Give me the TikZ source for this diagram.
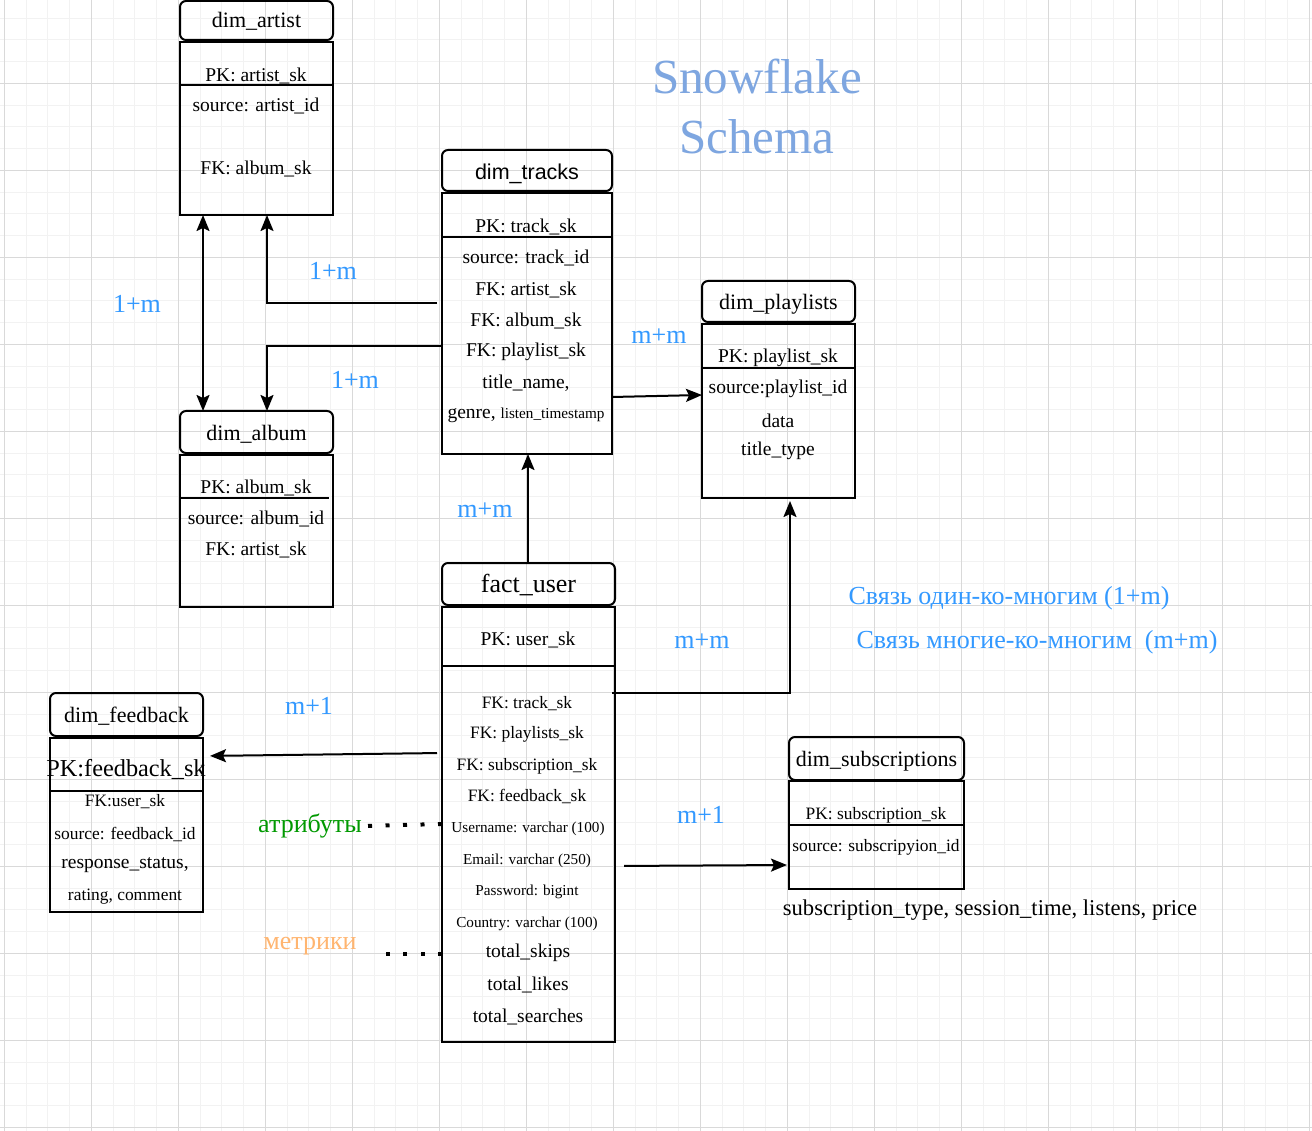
\documentclass[tikz,border=0pt]{standalone}
\usepackage{fontspec}
\setmainfont{Liberation Serif}
\newfontfamily\arialfont{Liberation Sans}
\usetikzlibrary{arrows.meta}
\definecolor{relblue}{HTML}{3399FF}
\definecolor{titleblue}{HTML}{7EA6E0}
\definecolor{attrgreen}{HTML}{009900}
\definecolor{metrorange}{HTML}{FFB570}
\definecolor{gridmajor}{HTML}{D9D9D9}
\definecolor{gridminor}{HTML}{F2F2F2}
\tikzset{
  tblhead/.style={draw, line width=2pt, rounded corners=6pt, anchor=north west, inner sep=0pt, outer sep=0pt, text height=18pt, text depth=1.2pt, font=\fontsize{22}{26}\selectfont},
  tblbody/.style={draw, line width=2pt, anchor=north west, inner sep=0pt, outer sep=0pt},
  sepline/.style={line width=2pt},
  fldL/.style={inner sep=0pt, yshift=-2pt, font=\fontsize{19.5}{23}\selectfont},
  fldM/.style={inner sep=0pt, yshift=-2pt, font=\fontsize{17.4}{21}\selectfont},
  fldS/.style={inner sep=0pt, yshift=-2pt, font=\fontsize{15.2}{18}\selectfont},
  rel/.style={inner sep=0pt, yshift=-2pt, text=relblue, font=\fontsize{26}{30}\selectfont},
  conn/.style={line width=2pt},
  dotlink/.style={line width=4pt, dash pattern=on 4pt off 13.5pt},
}
\begin{document}
\begin{tikzpicture}[x=1pt, y=-1pt, >={Stealth[length=16pt,width=13pt,inset=3pt]}]
\useasboundingbox (0,0) rectangle (1312,1131);
\fill[white] (0,0) rectangle (1312,1131);
% grid
\foreach \i in {0,...,60} {
  \draw[gridminor, line width=1pt] ({4.3+21.75*\i},0) -- ({4.3+21.75*\i},1131);
}
\foreach \i in {0,...,52} {
  \draw[gridminor, line width=1pt] (0,{-3.7+21.75*\i}) -- (1312,{-3.7+21.75*\i});
}
\foreach \i in {0,...,15} {
  \draw[gridmajor, line width=1pt] ({4.3+87*\i},0) -- ({4.3+87*\i},1131);
}
\foreach \i in {1,...,13} {
  \draw[gridmajor, line width=1pt] (0,{-3.7+87*\i}) -- (1312,{-3.7+87*\i});
}
% title
\node[text=titleblue, align=center, font=\fontsize{49}{60}\selectfont] (title) at (757,106) {Snowflake\\Schema};
% dim_artist
\node[tblhead, minimum width=153pt, minimum height=39pt, text height=15.6pt] (artist_head) at (180,1) {dim\_artist};
\node[tblbody, minimum width=153pt, minimum height=173pt] (artist_body) at (180,42) {};
\draw[sepline] (artist_body.west |- 0,85) -- (artist_body.east |- 0,85);
\node[fldL] (artist_pk) at (256,74) {PK: artist\_sk};
\node[fldL] (artist_src) at (256,104) {source: artist\_id};
\node[fldL] (artist_fk) at (256,167) {FK: album\_sk};
% dim_tracks
\node[tblhead, minimum width=170pt, minimum height=41pt, text height=19.6pt, font=\arialfont\fontsize{21.5}{26}\selectfont] (tracks_head) at (442,150) {dim\_tracks};
\node[tblbody, minimum width=170pt, minimum height=261pt] (tracks_body) at (442,193) {};
\draw[sepline] (tracks_body.west |- 0,237) -- (tracks_body.east |- 0,237);
\node[fldL] (tracks_pk) at (526,225) {PK: track\_sk};
\node[fldL] (tracks_src) at (526,256) {source: track\_id};
\node[fldL] (tracks_fk1) at (526,288) {FK: artist\_sk};
\node[fldL] (tracks_fk2) at (526,319) {FK: album\_sk};
\node[fldL] (tracks_fk3) at (526,350) {FK: playlist\_sk};
\node[fldL] (tracks_f1) at (526,381) {title\_name,};
\node[fldL] (tracks_f2) at (526,413) {genre, {\fontsize{15.2}{18}\selectfont listen\_timestamp}};
% dim_playlists
\node[tblhead, minimum width=153pt, minimum height=41pt] (playlists_head) at (702,281) {dim\_playlists};
\node[tblbody, minimum width=153pt, minimum height=174pt] (playlists_body) at (702,324) {};
\draw[sepline] (playlists_body.west |- 0,368) -- (playlists_body.east |- 0,368);
\node[fldL] (playlists_pk) at (778,356) {PK: playlist\_sk};
\node[fldL] (playlists_src) at (778,387) {source:playlist\_id};
\node[fldL] (playlists_f1) at (778,419) {data};
\node[fldL] (playlists_f2) at (778,449) {title\_type};
% dim_album
\node[tblhead, minimum width=153pt, minimum height=42pt] (album_head) at (180,411) {dim\_album};
\node[tblbody, minimum width=153pt, minimum height=152pt] (album_body) at (180,455) {};
\draw[sepline] (album_body.west |- 0,498) -- (329,498);
\node[fldL] (album_pk) at (256,486) {PK: album\_sk};
\node[fldL] (album_src) at (256,517) {source: album\_id};
\node[fldL] (album_fk) at (256,548) {FK: artist\_sk};
% dim_feedback
\node[tblhead, minimum width=153pt, minimum height=43pt] (feedback_head) at (50,693) {dim\_feedback};
\node[tblbody, minimum width=153pt, minimum height=174pt] (feedback_body) at (50,738) {};
\draw[sepline] (feedback_body.west |- 0,791) -- (feedback_body.east |- 0,791);
\node[inner sep=0pt, yshift=-2pt, font=\fontsize{24.3}{28}\selectfont] (feedback_pk) at (126,768) {PK:feedback\_sk};
\node[fldM] (feedback_fk) at (125,800) {FK:user\_sk};
\node[fldM] (feedback_src) at (125,832) {source: feedback\_id};
\node[fldL] (feedback_f1) at (125,863) {response\_status,};
\node[fldM] (feedback_f2) at (125,895) {rating, comment};
% fact_user
\node[tblhead, minimum width=173pt, minimum height=42pt, text height=18.2pt, font=\fontsize{26}{30}\selectfont] (fact_head) at (442,563) {fact\_user};
\node[tblbody, minimum width=173pt, minimum height=435pt] (fact_body) at (442,607) {};
\draw[sepline] (fact_body.west |- 0,666) -- (fact_body.east |- 0,666);
\node[fldL] (fact_pk) at (528,638) {PK: user\_sk};
\node[fldM] (fact_fk1) at (527,702) {FK: track\_sk};
\node[fldM] (fact_fk2) at (527,732) {FK: playlists\_sk};
\node[fldM] (fact_fk3) at (527,764) {FK: subscription\_sk};
\node[fldM] (fact_fk4) at (527,794) {FK: feedback\_sk};
\node[fldS] (fact_a1) at (528,827) {Username: varchar (100)};
\node[fldS] (fact_a2) at (527,859) {Email: varchar (250)};
\node[fldS] (fact_a3) at (527,890) {Password: bigint};
\node[fldS] (fact_a4) at (527,922) {Country: varchar (100)};
\node[fldL] (fact_m1) at (528,951) {total\_skips};
\node[fldL] (fact_m2) at (528,983) {total\_likes};
\node[fldL] (fact_m3) at (528,1015) {total\_searches};
% dim_subscriptions
\node[tblhead, minimum width=175pt, minimum height=43pt] (subs_head) at (789,737) {dim\_subscriptions};
\node[tblbody, minimum width=175pt, minimum height=108pt] (subs_body) at (789,781) {};
\draw[sepline] (subs_body.west |- 0,825) -- (subs_body.east |- 0,825);
\node[fldM] (subs_pk) at (876,813) {PK: subscription\_sk};
\node[fldM] (subs_src) at (876,845) {source: subscripyion\_id};
\node[inner sep=0pt, yshift=-1pt, font=\fontsize{22.6}{27}\selectfont] (subs_note) at (990,909) {subscription\_type, session\_time, listens, price};
% connectors
\draw[conn, <->] (artist_body.south -| 203,0) -- (album_head.north -| 203,0);
\draw[conn, ->, shorten <=5pt] (tracks_body.west |- 0,303) -| (artist_body.south -| 267,0);
\draw[conn, ->] (tracks_body.west |- 0,346) -| (album_head.north -| 267,0);
\draw[conn, ->] (tracks_body.east |- 0,397) -- (playlists_body.west |- 0,395);
\draw[conn, ->] (fact_head.north -| 528,0) -- (tracks_body.south -| 528,0);
\draw[conn, ->, shorten >=3pt] ([xshift=-3pt]fact_body.east |- 0,693) -| (playlists_body.south -| 790,0);
\draw[conn, ->, shorten <=5pt, shorten >=7pt] (fact_body.west |- 0,753) -- (feedback_body.east |- 0,756);
\draw[conn, ->, shorten <=9pt, shorten >=2pt] (fact_body.east |- 0,866) -- (subs_body.west |- 0,865);
% relation labels
\node[rel] (rel_a) at (137,302) {1+m};
\node[rel] (rel_b) at (333,269) {1+m};
\node[rel] (rel_c) at (355,378) {1+m};
\node[rel] (rel_d) at (659,334) {m+m};
\node[rel] (rel_e) at (485,508) {m+m};
\node[rel] (rel_f) at (702,639) {m+m};
\node[rel] (rel_g) at (309,704) {m+1};
\node[rel] (rel_h) at (701,813) {m+1};
% legend
\node[rel, yshift=-1pt] (legend_a) at (1009,595) {Связь один-ко-многим (1+m)};
\node[rel, yshift=-1pt] (legend_b) at (1037,639) {Связь многие-ко-многим\ \ (m+m)};
% attributes / metrics
\node[inner sep=0pt, text=attrgreen, font=\fontsize{26}{30}\selectfont] (attr_lbl) at (310,826) {атрибуты};
\node[inner sep=0pt, text=metrorange, font=\fontsize{26}{30}\selectfont] (metr_lbl) at (310,946) {метрики};
\draw[dotlink] (fact_body.west |- 0,824) -- (attr_lbl.east);
\draw[dotlink] (fact_body.west |- 0,954) -- ++(-58,0);
\end{tikzpicture}
\end{document}
